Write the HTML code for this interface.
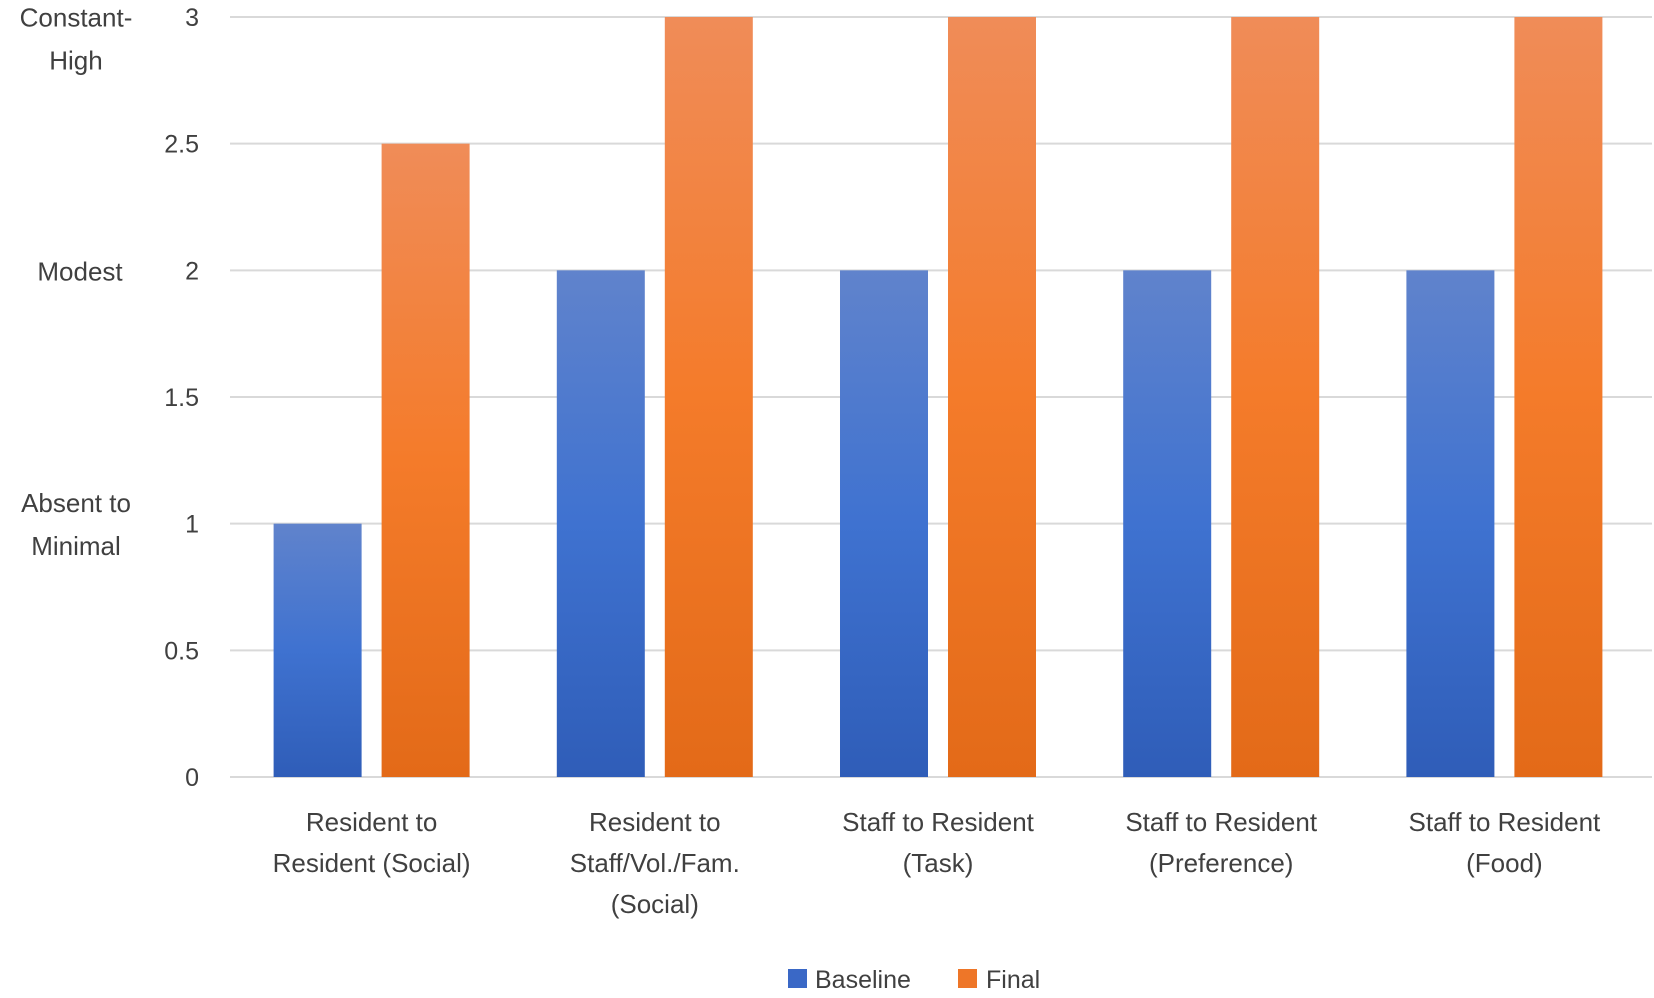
<!DOCTYPE html>
<html><head><meta charset="utf-8"><style>
body{margin:0;background:#fff}
svg text{font-family:"Liberation Sans",sans-serif;fill:#404040}
</style></head><body>
<svg id="chart" width="1654" height="993" viewBox="0 0 1654 993">
<defs>
<linearGradient id="gb" x1="0" y1="0" x2="0" y2="1"><stop offset="0" stop-color="#6083cc"/><stop offset="0.5" stop-color="#3f72d0"/><stop offset="1" stop-color="#2f5db8"/></linearGradient>
<linearGradient id="go" x1="0" y1="0" x2="0" y2="1"><stop offset="0" stop-color="#f08c58"/><stop offset="0.5" stop-color="#f47b2a"/><stop offset="1" stop-color="#e36a18"/></linearGradient>
</defs>
<g id="grid"></g><g id="bars"></g><g id="labels"></g>
<g>
<rect x="788" y="969" width="19" height="19" fill="#3a68c6"/>
<text x="815" y="988" font-size="25">Baseline</text>
<rect x="958" y="969" width="19" height="19" fill="#ee7628"/>
<text x="986" y="988" font-size="25">Final</text>
</g>
</svg>
<script>
const categories=[["Resident to","Resident (Social)"],["Resident to","Staff/Vol./Fam.","(Social)"],["Staff to Resident","(Task)"],["Staff to Resident","(Preference)"],["Staff to Resident","(Food)"]];
const baseline=[1,2,2,2,2];
const finalVals=[2.5,3,3,3,3];
const ticks=[0,0.5,1,1.5,2,2.5,3];
const tickLabels=["0","0.5","1","1.5","2","2.5","3"];
const levelLabels=[[3,["Constant-","High"]],[2,["Modest"]],[1,["Absent to","Minimal"]]];
const NS="http://www.w3.org/2000/svg";
const x0=230,x1=1652,xp=1646,yb=777,yt=17;
const y=v=>yb-(v/3)*(yb-yt);
const gw=(xp-x0)/categories.length;
function mk(t,a,p){const e=document.createElementNS(NS,t);for(const k in a)e.setAttribute(k,a[k]);p.appendChild(e);return e;}
const G=document.getElementById('grid'),B=document.getElementById('bars'),L=document.getElementById('labels');
ticks.forEach((t,i)=>{
 const l=mk('line',{x1:x0,x2:x1,y1:y(t),y2:y(t),stroke:'#d9d9d9','stroke-width':2},G);
 
 
 const tx=mk('text',{x:199,y:y(t)+9,'text-anchor':'end','font-size':25},L);
 tx.textContent=tickLabels[i];
 
 
});
levelLabels.forEach(([v,lines])=>{
 const n=lines.length;
 lines.forEach((s,j)=>{
  const tx=mk('text',{x:n===1?80:76,y:y(v)+10+(j-(n-1)/2)*43+(v===3?21:0),'text-anchor':'middle','font-size':26},L);
  tx.textContent=s;
  
  
 });
});
categories.forEach((c,i)=>{
 const cx=x0+gw*(i+0.5);
 const bw=88;
 const r1=mk('rect',{x:cx-98,y:y(baseline[i]),width:bw,height:yb-y(baseline[i]),fill:'url(#gb)'},B);
 
 
 const r2=mk('rect',{x:cx+10,y:y(finalVals[i]),width:bw,height:yb-y(finalVals[i]),fill:'url(#go)'},B);
 
 
 c.forEach((s,j)=>{
  const tx=mk('text',{x:cx,y:831+j*41,'text-anchor':'middle','font-size':26},L);
  tx.textContent=s;
  
  
 });
});
</script>
</body></html>
